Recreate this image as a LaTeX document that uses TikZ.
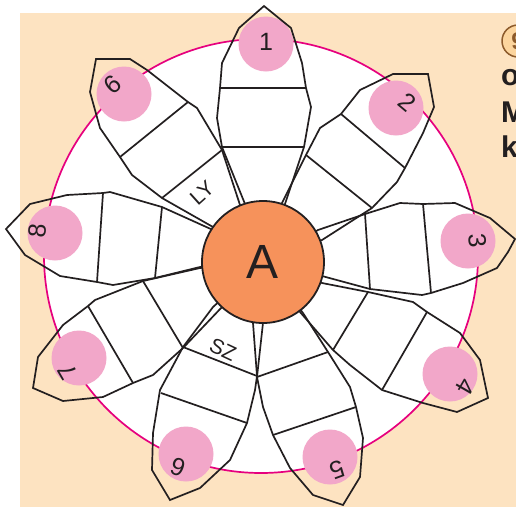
\documentclass[tikz,border=0pt]{standalone}
\usepackage{fontspec}
\setmainfont{Liberation Sans}
\definecolor{peach}{HTML}{FDE3C1}
\definecolor{pinkc}{HTML}{F2A7C9}
\definecolor{magc}{HTML}{E6007E}
\definecolor{orangeA}{HTML}{F6925B}
\definecolor{ink}{HTML}{231F20}
\definecolor{badgefill}{HTML}{FCD59E}
\definecolor{badgeline}{HTML}{8C5A2B}
\begin{document}
\begin{tikzpicture}[x=1pt,y=-1pt,
  petal/.style={draw=ink, line width=1.7pt, line join=miter},
  pinkdot/.style={circle, fill=pinkc, minimum size=55pt, inner sep=0pt},
  digit/.style={font=\fontsize{25}{25}\selectfont, text=ink, inner sep=0pt},
  cell/.style={font=\fontsize{21}{21}\selectfont, text=ink, inner sep=0pt},
  acirc/.style={circle, draw=ink, line width=1.8pt, fill=orangeA, minimum size=122pt, inner sep=0pt, font=\fontsize{48}{48}\selectfont, text=ink},
  sidetext/.style={font=\fontsize{30}{30}\selectfont\bfseries, text=ink, inner sep=0pt, anchor=base west}]
\useasboundingbox (0,0) rectangle (516,507);
\clip (0,0) rectangle (516,507);
% background
\fill[peach] (20,13) rectangle (516,507);
\filldraw[fill=white, draw=magc, line width=1.7pt] (261,256) circle (217);
% pink dots
\node[pinkdot] (d1) at (266,44) {};
\node[pinkdot] (d2) at (396,108) {};
\node[pinkdot] (d3) at (468,241) {};
\node[pinkdot] (d4) at (450,374) {};
\node[pinkdot] (d5) at (330,457) {};
\node[pinkdot] (d6) at (186,454) {};
\node[pinkdot] (d7) at (79,358) {};
\node[pinkdot] (d8) at (55,233) {};
\node[pinkdot] (d9) at (124,94) {};
% petals
\coordinate (c) at (263,262);
% petal 1
\draw[petal] (c) -- (245,204) -- (222,147) -- (217,118) -- (220,88) -- (222,63) -- (239,28) -- (264,6) -- (291,28) -- (302,63) -- (306,88) -- (311,107) -- (304,147) -- (285,204) -- cycle;
\draw[petal] (220,88) -- (306,88);
\draw[petal] (222,147) -- (304,147);
% petal 2
\draw[petal] (c) -- (282,203) -- (306,155) -- (320,128) -- (341,114) -- (360,90) -- (393,74) -- (428,74) -- (434,107) -- (423,133) -- (405,168) -- (397,182) -- (372,208) -- (322,240) -- cycle;
\draw[petal] (341,114) -- (405,168);
\draw[petal] (306,155) -- (372,208);
% petal 3
\draw[petal] (c) -- (318,230) -- (365,214) -- (400,203) -- (423,204) -- (455,203) -- (490,218) -- (515,239) -- (508,252) -- (497,268) -- (463,283) -- (431,293) -- (422,295) -- (370,289) -- (322,276) -- cycle;
\draw[petal] (365,214) -- (370,289);
\draw[petal] (423,204) -- (431,293);
% petal 4
\draw[petal] (c) -- (322,283) -- (368,292) -- (413,302) -- (427,312) -- (460,333) -- (480,360) -- (488,398) -- (457,412) -- (423,403) -- (382,390) -- (350,365) -- (333,350) -- (300,312) -- cycle;
\draw[petal] (427,312) -- (382,390);
\draw[petal] (368,292) -- (333,350);
% petal 5
\draw[petal] (c) -- (303,313) -- (328,352) -- (350,387) -- (356,407) -- (363,438) -- (360,477) -- (343,505) -- (313,495) -- (290,468) -- (273,435) -- (263,407) -- (257,377) -- (263,323) -- cycle;
\draw[petal] (273,435) -- (356,407);
\draw[petal] (257,377) -- (328,352);
% petal 6
\draw[petal] (c) -- (213,307) -- (183,347) -- (160,390) -- (153,433) -- (152,470) -- (170,500) -- (200,488) -- (230,460) -- (247,423) -- (255,390) -- (257,376) -- (253,323) -- cycle;
\draw[petal] (161,393) -- (247,423);
\draw[petal] (183,347) -- (257,376);
% petal 7
\draw[petal] (c) -- (200,268) -- (143,281) -- (95,300) -- (88,306) -- (63,325) -- (38,357) -- (33,388) -- (63,401) -- (103,397) -- (133,383) -- (153,375) -- (183,348) -- (222,307) -- cycle;
\draw[petal] (88,306) -- (133,383);
\draw[petal] (143,281) -- (183,348);
% petal 8
\draw[petal] (c) -- (213,230) -- (162,207) -- (110,192) -- (103,193) -- (67,195) -- (30,204) -- (6,229) -- (25,255) -- (60,276) -- (97,282) -- (113,285) -- (155,278) -- (200,267) -- cycle;
\draw[petal] (103,193) -- (97,282);
\draw[petal] (162,207) -- (155,278);
% petal 9
\draw[petal] (c) -- (213,227) -- (162,198) -- (132,175) -- (120,157) -- (100,128) -- (90,92) -- (96,59) -- (130,59) -- (147,70) -- (188,102) -- (197,108) -- (222,150) -- (240,205) -- cycle;
\draw[petal] (120,157) -- (188,102);
\draw[petal] (162,198) -- (222,150);
% centre
\node[acirc] (A) at (263,262) {A};
% numbers
\node[digit] (n1) at (266,42) {1};
\node[digit, rotate=-40] (n2) at (407,102) {2};
\node[digit, rotate=-85] (n3) at (478,241) {3};
\node[digit, rotate=-120] (n4) at (465,387) {4};
\node[digit, rotate=-160] (n5) at (337,470) {5};
\node[digit, rotate=160] (n6) at (178,467) {6};
\node[digit, rotate=120] (n7) at (68,372) {7};
\node[digit, rotate=85] (n8) at (38,231) {8};
\node[digit, rotate=220] (n9) at (113,85) {9};
% cell labels
\node[cell, rotate=42] (ly) at (202,193) {LY};
\node[cell, rotate=-25] (sz) at (223,350) {SZ};
% side badge and text (cut off by the page edge, as in the source)
\node[circle, fill=badgefill, draw=badgeline, line width=1.5pt, minimum size=32pt, inner sep=0pt, text=badgeline, font=\fontsize{24}{24}\selectfont\bfseries] (badge) at (518,41) {9};
\node[sidetext] (t1) at (501,85.5) {o};
\node[sidetext] (t2) at (501,122) {M};
\node[sidetext] (t3) at (501,157) {k};
\end{tikzpicture}
\end{document}
